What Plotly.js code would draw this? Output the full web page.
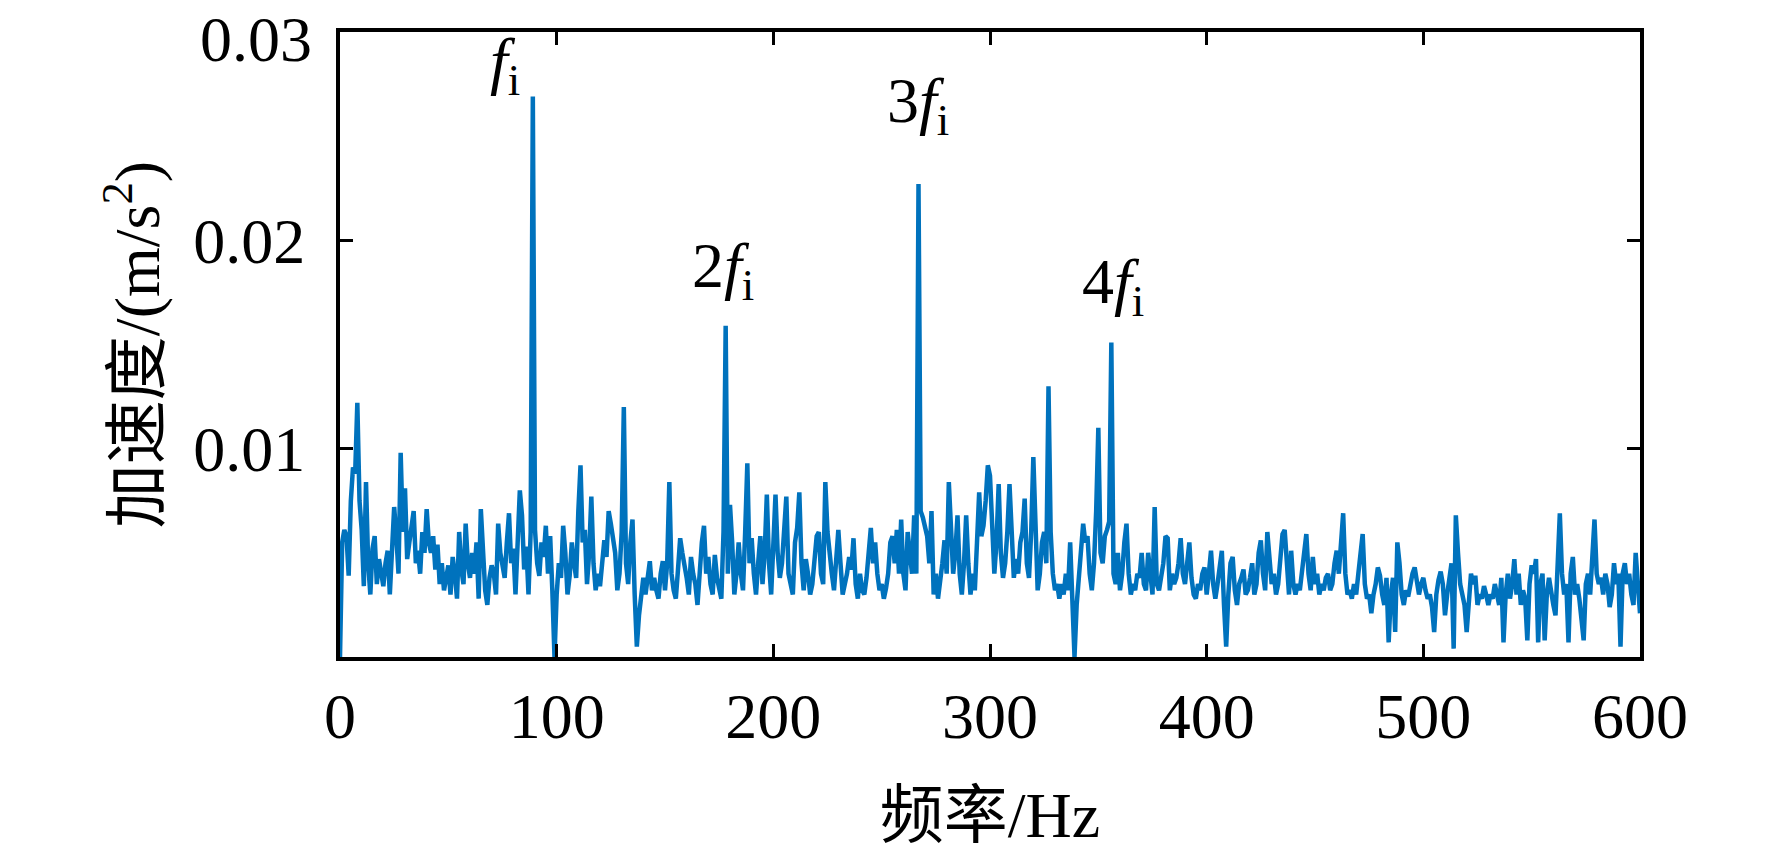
<!DOCTYPE html>
<html>
<head>
<meta charset="utf-8">
<script src="https://cdn.plot.ly/plotly-3.0.1.min.js"></script>
<style>
  html, body { margin: 0; padding: 0; background: #fff; }
  #chart { width: 1772px; height: 853px; }
</style>
</head>
<body>
<div id="chart"></div>
<script>
// spectrum amplitude, one value per Hz (0..600), in units of 1e-4 m/s^2
const amp = [
  0, 55, 61, 58, 39, 75, 91, 88, 122, 75,
  61, 34, 84, 45, 30, 52, 58, 35, 47, 40,
  34, 45, 51, 30, 55, 72, 58, 40, 98, 60,
  81, 47, 55, 62, 70, 45, 51, 40, 60, 50,
  71, 55, 50, 58, 42, 54, 35, 45, 32, 38,
  44, 30, 48, 40, 28, 60, 42, 35, 64, 45,
  38, 50, 40, 55, 28, 71, 45, 32, 25, 38,
  44, 40, 30, 64, 50, 45, 38, 55, 69, 45,
  52, 30, 60, 80, 68, 42, 53, 30, 60, 269,
  61, 45, 39, 55, 48, 63, 40, 58, 32, 0,
  30, 45, 38, 63, 50, 30, 39, 55, 45, 38,
  70, 92, 55, 61, 35, 50, 77, 45, 32, 40,
  34, 45, 56, 48, 70, 64, 55, 50, 32, 40,
  60, 120, 45, 35, 55, 66, 30, 5, 20, 32,
  38, 30, 37, 46, 32, 38, 32, 28, 40, 46,
  32, 45, 84, 40, 32, 28, 42, 57, 50, 45,
  38, 30, 48, 40, 35, 25, 45, 55, 63, 40,
  48, 35, 30, 49, 38, 32, 28, 60, 159, 40,
  73, 55, 30, 40, 55, 40, 32, 60, 93, 45,
  57, 40, 30, 45, 58, 35, 50, 78, 45, 30,
  55, 78, 50, 38, 45, 60, 77, 40, 35, 30,
  55, 62, 79, 45, 32, 47, 40, 30, 35, 45,
  58, 60, 40, 35, 84, 60, 48, 40, 32, 45,
  61, 45, 30, 35, 40, 48, 42, 57, 35, 28,
  40, 32, 30, 38, 50, 62, 45, 55, 40, 32,
  35, 28, 33, 40, 55, 58, 45, 61, 40, 66,
  40, 32, 60, 50, 40, 68, 40, 227, 70, 67,
  62, 58, 45, 70, 30, 40, 28, 35, 45, 56,
  40, 84, 58, 40, 50, 68, 40, 30, 45, 68,
  45, 30, 40, 32, 55, 79, 58, 63, 75, 92,
  87, 60, 40, 55, 83, 50, 38, 45, 60, 83,
  55, 38, 47, 40, 55, 60, 76, 45, 38, 60,
  96, 55, 32, 40, 55, 60, 45, 130, 60, 40,
  32, 35, 28, 35, 30, 40, 32, 55, 30, 0,
  25, 40, 50, 64, 55, 58, 40, 32, 45, 70,
  110, 50, 45, 58, 61, 65, 151, 40, 35, 50,
  32, 40, 55, 64, 40, 30, 35, 32, 40, 38,
  50, 35, 32, 50, 40, 30, 72, 35, 32, 40,
  45, 58, 57, 32, 40, 35, 38, 45, 57, 40,
  35, 45, 55, 38, 30, 28, 35, 32, 40, 43,
  30, 40, 51, 35, 28, 35, 42, 51, 25, 5,
  30, 45, 48, 32, 25, 35, 38, 42, 30, 32,
  38, 45, 30, 35, 50, 56, 40, 32, 60, 45,
  35, 40, 30, 35, 45, 59, 61, 45, 30, 51,
  35, 30, 35, 32, 40, 50, 59, 40, 32, 48,
  35, 40, 30, 35, 32, 38, 40, 32, 35, 45,
  51, 40, 55, 69, 40, 30, 32, 28, 35, 30,
  40, 50, 59, 35, 28, 30, 21, 30, 35, 43,
  39, 30, 25, 38, 7, 30, 38, 12, 55, 45,
  30, 25, 32, 29, 35, 40, 43, 35, 30, 35,
  38, 32, 28, 30, 24, 12, 30, 37, 41, 35,
  20, 30, 40, 45, 4, 68, 50, 35, 30, 25,
  12, 30, 40, 35, 39, 25, 30, 28, 34, 30,
  25, 30, 28, 35, 30, 25, 38, 7, 30, 40,
  28, 35, 47, 30, 40, 25, 32, 28, 8, 35,
  44, 40, 47, 7, 35, 40, 8, 30, 38, 30,
  25, 20, 45, 69, 40, 30, 35, 7, 40, 48,
  30, 35, 28, 20, 8, 35, 40, 30, 45, 66,
  40, 35, 38, 30, 40, 35, 24, 30, 45, 35,
  40, 5, 40, 45, 35, 40, 30, 25, 50, 35,
  21
];
const freq = amp.map((_, i) => i);
const accel = amp.map(v => v * 1e-4);

const xTicks = [0, 100, 200, 300, 400, 500, 600];
const yTicks = [0.01, 0.02, 0.03];
const yTickText = ['0.01', '0.02', '0.03'];

// harmonic labels
const peakLabels = ['<i>f</i><sub>i</sub>', '2<i>f</i><sub>i</sub>', '3<i>f</i><sub>i</sub>', '4<i>f</i><sub>i</sub>'];
const peakLabelX = [76, 176.8, 266.8, 356.8];
const peakLabelY = [0.0284, 0.0186, 0.0265, 0.0178];

const FONT = '"Liberation Serif", "Times New Roman", "Noto Sans CJK SC", serif';

var trace = {
    x: freq,
    y: accel,
    mode: 'lines',
    type: 'scatter',
    line: {color: '#0072BD', width: 4.5},
    hoverinfo: 'skip'
};

var axisBase = {
    showline: true,
    linecolor: '#000',
    linewidth: 4,
    mirror: 'ticks',
    ticks: 'inside',
    ticklen: 13,
    tickwidth: 3,
    tickcolor: '#000',
    showgrid: false,
    zeroline: false,
    automargin: false,
    tickfont: {family: FONT, size: 64, color: '#000'}
};

var layout = {
    width: 1772,
    height: 853,
    margin: {l: 340, r: 132, t: 32, b: 196},
    paper_bgcolor: '#fff',
    plot_bgcolor: '#fff',
    showlegend: false,
    font: {family: FONT, color: '#000'},
    xaxis: Object.assign({}, axisBase, {
        range: [0, 600],
        tickvals: xTicks,
        ticklabelstandoff: 0,
        title: {text: '频率/Hz', font: {family: FONT, size: 64, color: '#000'}, standoff: 42}
    }),
    yaxis: Object.assign({}, axisBase, {
        range: [0, 0.03],
        tickvals: yTicks,
        ticktext: yTickText,
        ticklabelstandoff: 18,
        title: {text: '加速度/(m/s<sup>2</sup>)', font: {family: FONT, size: 64, color: '#000'}, standoff: 14}
    }),
    annotations: peakLabels.map((t, i) => ({
        x: peakLabelX[i],
        y: peakLabelY[i],
        xref: 'x',
        yref: 'y',
        text: t,
        showarrow: false,
        font: {family: FONT, size: 64, color: '#000'}
    })).concat([{
        // top tick label sits on the range edge, so it is placed next to the axis top
        x: 0,
        y: 1,
        xref: 'paper',
        yref: 'paper',
        xanchor: 'right',
        yanchor: 'top',
        xshift: -26,
        yshift: 30,
        text: yTickText[2],
        showarrow: false,
        font: {family: FONT, size: 64, color: '#000'}
    }])
};

Plotly.newPlot('chart', [trace], layout, {staticPlot: true, displayModeBar: false});
</script>
</body>
</html>
